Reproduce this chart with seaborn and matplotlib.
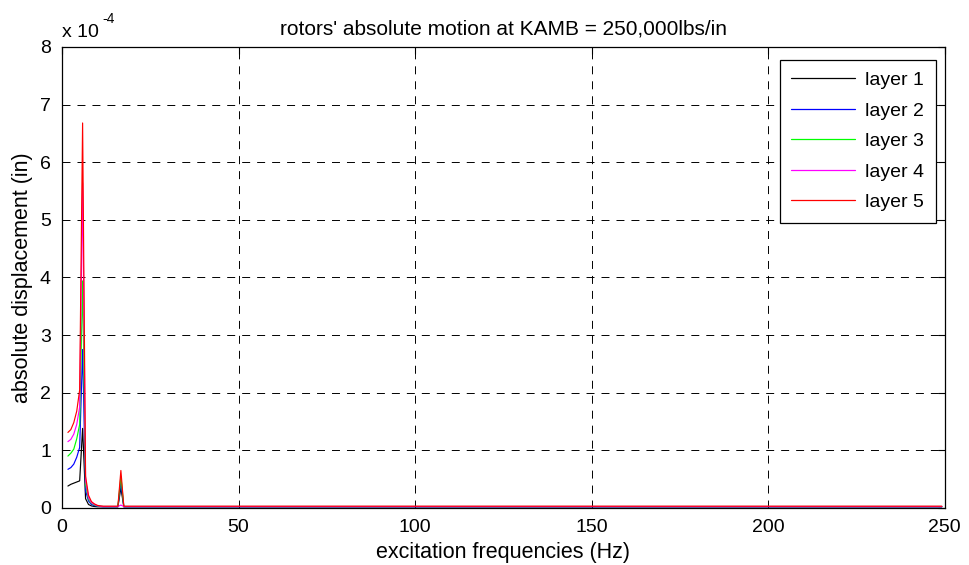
import matplotlib
matplotlib.use("Agg")
import matplotlib.pyplot as plt
from matplotlib.ticker import FuncFormatter, MultipleLocator
import seaborn as sns
import pandas as pd

# excitation frequencies (Hz)
freq = [1.67, 2.5, 3.33, 4.17, 5.0, 5.83, 6.67, 7.5, 8.33, 9.17, 10.0, 10.83,
        11.67, 12.5, 13.33, 14.17, 15.0, 15.83, 16.67, 17.5, 18.33, 19.17, 20.0, 249.17]

# absolute displacement of each layer, in units of 1e-4 in
layer1 = [0.38, 0.41, 0.43, 0.45, 0.47, 1.38, 0.16, 0.06, 0.035, 0.025, 0.02, 0.02,
          0.02, 0.02, 0.02, 0.02, 0.02, 0.02, 0.35, 0.02, 0.02, 0.02, 0.02, 0.02]
layer2 = [0.67, 0.70, 0.76, 0.88, 1.05, 2.75, 0.30, 0.12, 0.06, 0.04, 0.03, 0.025,
          0.02, 0.02, 0.02, 0.02, 0.02, 0.02, 0.45, 0.02, 0.02, 0.02, 0.02, 0.02]
layer3 = [0.90, 0.95, 1.02, 1.20, 1.45, 3.94, 0.40, 0.15, 0.08, 0.05, 0.035, 0.03,
          0.025, 0.025, 0.025, 0.025, 0.025, 0.025, 0.55, 0.025, 0.025, 0.025, 0.025, 0.025]
layer4 = [1.15, 1.19, 1.28, 1.45, 1.75, 5.64, 0.48, 0.18, 0.09, 0.06, 0.04, 0.03,
          0.025, 0.025, 0.025, 0.025, 0.025, 0.025, 0.05, 0.025, 0.025, 0.025, 0.025, 0.025]
layer5 = [1.31, 1.36, 1.48, 1.68, 2.05, 6.68, 0.55, 0.22, 0.11, 0.07, 0.045, 0.035,
          0.03, 0.03, 0.03, 0.03, 0.03, 0.03, 0.65, 0.03, 0.03, 0.03, 0.03, 0.03]

labels = ["layer 1", "layer 2", "layer 3", "layer 4", "layer 5"]
colors = ["#000000", "#0000ff", "#00ff00", "#ff00ff", "#ff0000"]
SCALE = 1e-4

sns.set_theme(style="white")
plt.rcParams["font.family"] = ["Liberation Sans", "DejaVu Sans"]
plt.rcParams["text.color"] = "black"
plt.rcParams["axes.labelcolor"] = "black"

frames = []
for name, vals in zip(labels, [layer1, layer2, layer3, layer4, layer5]):
    frames.append(pd.DataFrame({"freq": freq,
                                "disp": [v * SCALE for v in vals],
                                "layer": name}))
df = pd.concat(frames, ignore_index=True)

fig = plt.figure(figsize=(9.69, 5.65), dpi=100)
ax = fig.add_axes([0.064, 0.101, 0.911, 0.816])

sns.lineplot(data=df, x="freq", y="disp", hue="layer", palette=colors,
             estimator=None, sort=False, linewidth=0.85, ax=ax)

ax.set_xlim(0, 250)
ax.set_ylim(0, 8 * SCALE)
ax.xaxis.set_major_locator(MultipleLocator(50))
ax.yaxis.set_major_locator(MultipleLocator(SCALE))
ax.yaxis.set_major_formatter(FuncFormatter(lambda v, p: f"{v / SCALE:.0f}"))

ax.grid(True, color="black", linestyle=(0, (8.2, 7.2)), linewidth=0.7)
ax.set_axisbelow(True)
for s in ax.spines.values():
    s.set_color("black")
    s.set_linewidth(0.9)
ax.tick_params(direction="in", top=True, right=True, length=5, width=0.8,
               labelsize=14, colors="black")
ax.tick_params(axis="x", pad=8)
ax.tick_params(axis="y", pad=8)

ax.set_xlabel("excitation frequencies (Hz)", fontsize=15.5, labelpad=4, color="black")
ax.set_ylabel("absolute displacement (in)", fontsize=15.5, labelpad=5, color="black")
ax.set_title("rotors' absolute motion at KAMB = 250,000lbs/in", fontsize=15, pad=9,
             color="black")

# axis multiplier in the top-left corner
ax.text(0.0, 1.012, "x 10", transform=ax.transAxes, fontsize=14,
        ha="left", va="bottom", color="black")
ax.text(0.046, 1.045, "-4", transform=ax.transAxes, fontsize=10,
        ha="left", va="bottom", color="black")

leg = ax.legend(loc="upper right", bbox_to_anchor=(0.9898, 0.9718), fontsize=14,
                frameon=True, fancybox=False, edgecolor="black", framealpha=1,
                handlelength=3.3, labelspacing=0.66, borderpad=0.6,
                handletextpad=0.5, borderaxespad=0)
leg.get_frame().set_linewidth(0.9)
for text in leg.get_texts():
    text.set_color("black")
for line in leg.get_lines():
    line.set_linewidth(0.9)

fig.savefig("out.png", dpi=100)
